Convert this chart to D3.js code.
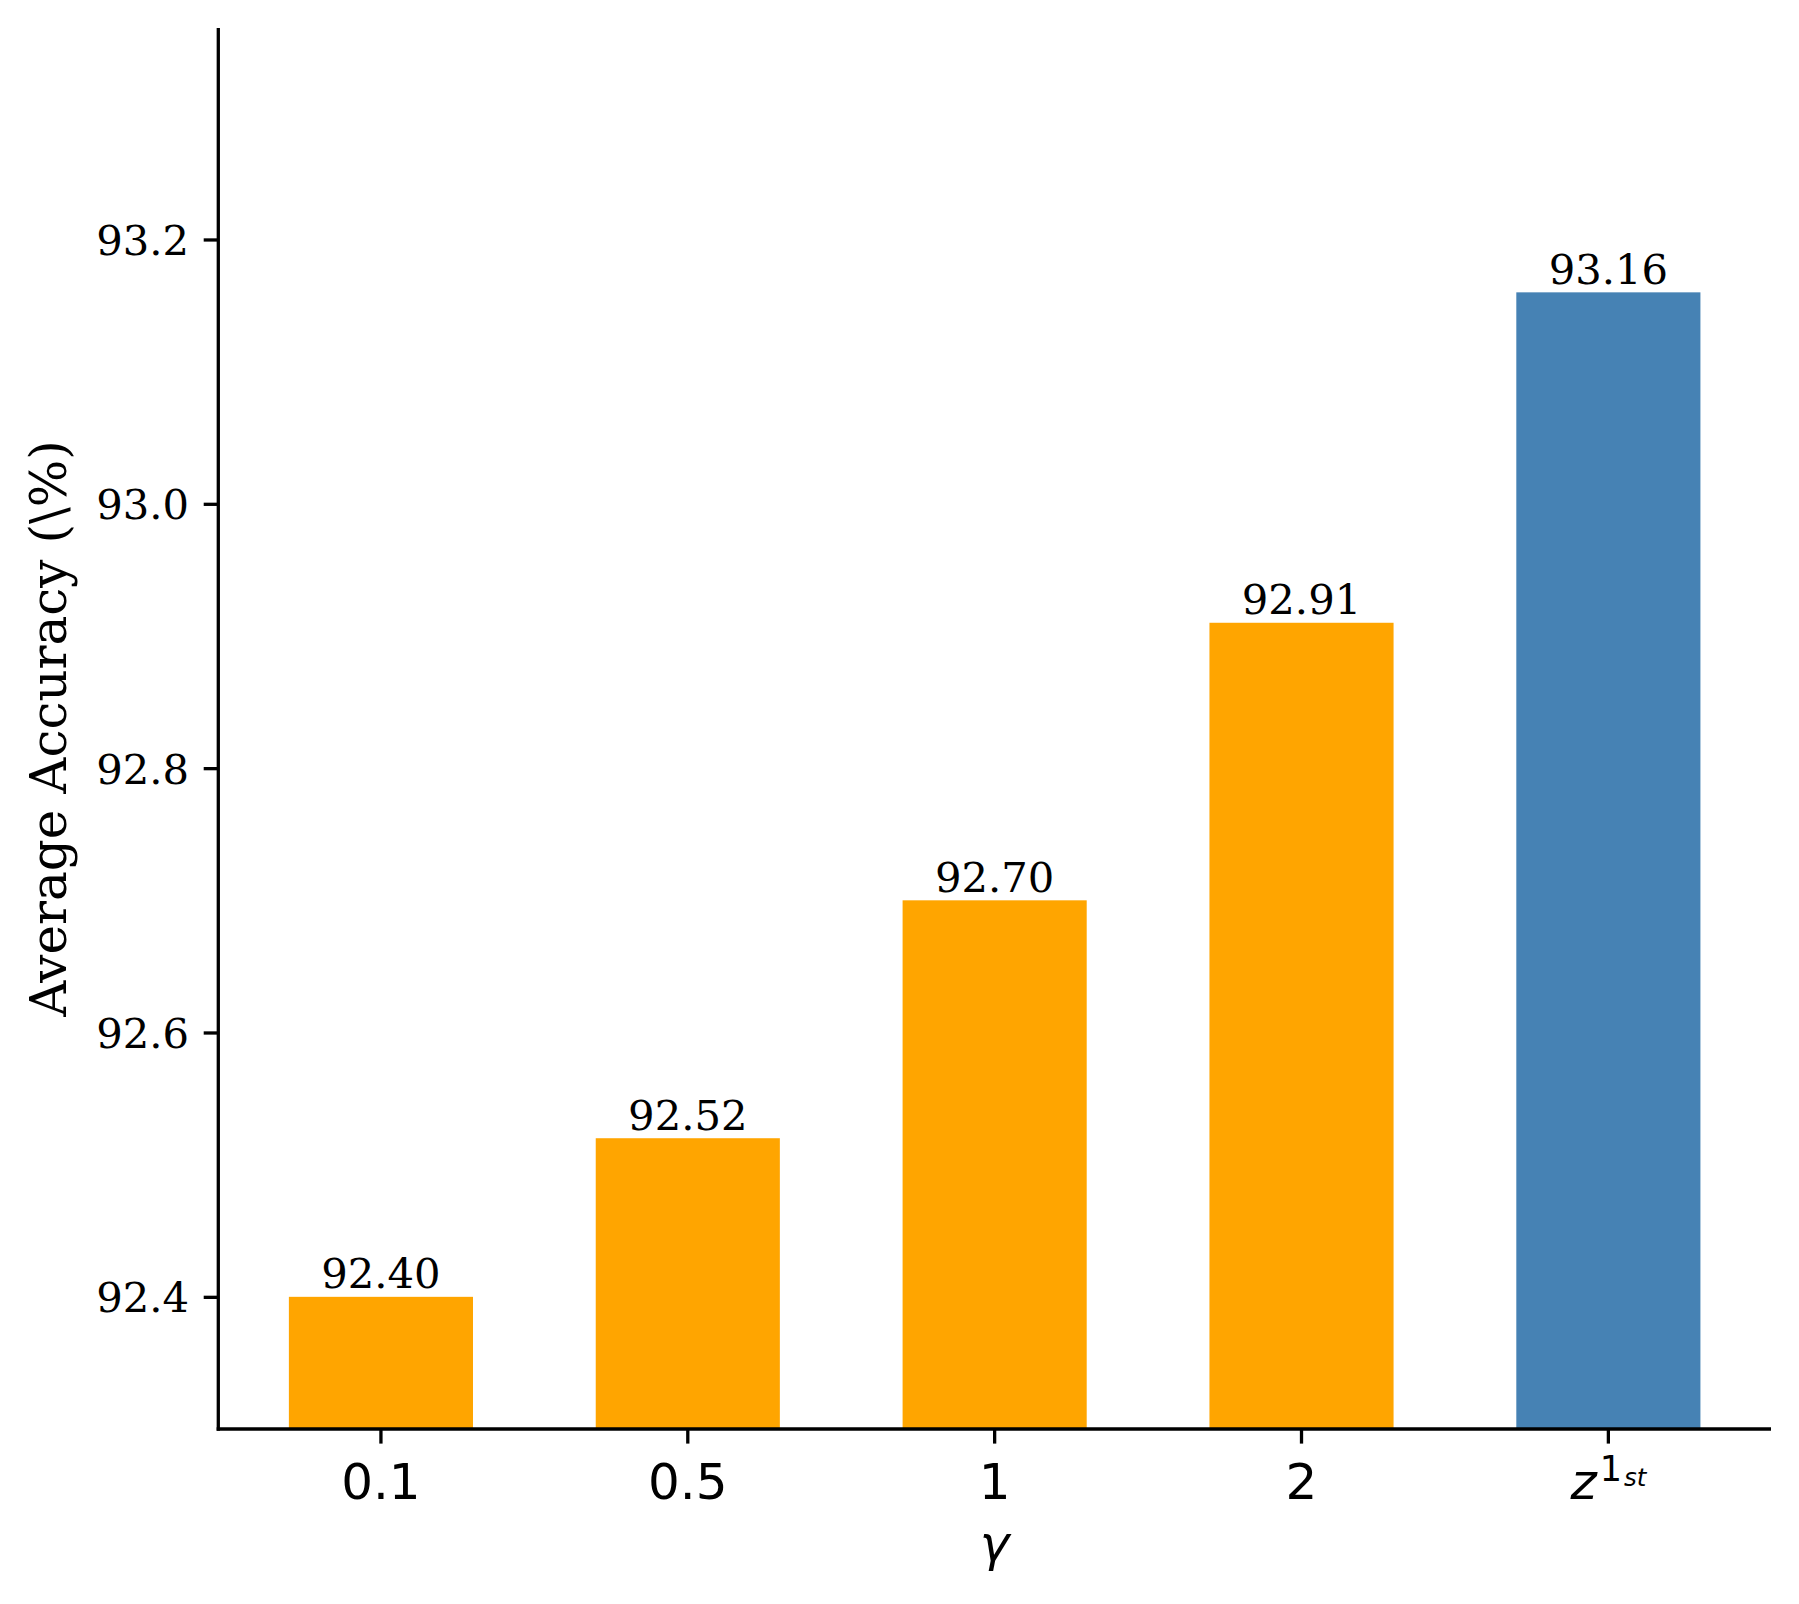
<!DOCTYPE html>
<html>
<head>
<meta charset="utf-8">
<script src="https://cdn.jsdelivr.net/npm/d3@7"></script>
<style>
  html, body { margin: 0; padding: 0; background: #fff; }
  svg { display: block; }
</style>
</head>
<body>
<svg id="chart" width="1799" height="1604"></svg>
<script>
const categories = ["0.1", "0.5", "1", "2", "z1st"];
const values = [92.40, 92.52, 92.70, 92.91, 93.16];
const valueLabels = ["92.40", "92.52", "92.70", "92.91", "93.16"];
const barColors = ["#FFA500", "#FFA500", "#FFA500", "#FFA500", "#4682B4"];
const yTicks = [92.4, 92.6, 92.8, 93.0, 93.2];
const yDomain = [92.3, 93.36];

const svg = d3.select("#chart");
const W = 1799, H = 1604;
const m = { left: 218.3, right: W - 1771, top: 28, bottom: H - 1429 };
const serif = "'DejaVu Serif', serif";
const sans = "'DejaVu Sans', sans-serif";
const lw = 3.3, tickLen = 14.6;

svg.append("rect").attr("width", W).attr("height", H).attr("fill", "#fff");

const x = d3.scaleBand().domain(categories)
  .range([m.left, W - m.right]).paddingInner(0.4).paddingOuter(0.23);
const y = d3.scaleLinear().domain(yDomain).range([H - m.bottom, m.top]);

const g = svg.append("g");

// bars
g.selectAll("rect.bar").data(categories).enter().append("rect")
  .attr("class", "bar")
  .attr("x", d => x(d))
  .attr("width", x.bandwidth())
  .attr("y", (d, i) => y(values[i]))
  .attr("height", (d, i) => y(yDomain[0]) - y(values[i]))
  .attr("fill", (d, i) => barColors[i]);

// value labels
g.selectAll("text.val").data(categories).enter().append("text")
  .attr("class", "val")
  .attr("x", d => x(d) + x.bandwidth() / 2)
  .attr("y", (d, i) => y(values[i]) - 8.5)
  .attr("text-anchor", "middle")
  .attr("font-family", serif)
  .attr("font-size", 41.7)
  .attr("fill", "#000")
  .text((d, i) => valueLabels[i]);

// y axis
const yAxis = d3.axisLeft(y).tickValues(yTicks).tickFormat(d3.format(".1f"))
  .tickSize(tickLen).tickPadding(14.6);
const ya = svg.append("g").attr("transform", `translate(${m.left},0)`).call(yAxis);
ya.select(".domain").attr("stroke", "#000").attr("stroke-width", lw)
  .attr("d", `M0,${y(yDomain[0]) + lw/2}V${m.top}`);
ya.selectAll(".tick line").attr("stroke", "#000").attr("stroke-width", lw);
ya.selectAll(".tick text").attr("font-family", serif).attr("font-size", 41.7)
  .attr("fill", "#000").attr("dy", "0.36em");

// x axis
const xAxis = d3.axisBottom(x).tickSize(tickLen).tickPadding(14.6).tickFormat(d => d);
const xa = svg.append("g").attr("transform", `translate(0,${H - m.bottom})`).call(xAxis);
xa.select(".domain").attr("stroke", "#000").attr("stroke-width", lw)
  .attr("d", `M${m.left - lw/2},0H${W - m.right}`);
xa.selectAll(".tick line").attr("stroke", "#000").attr("stroke-width", lw);
xa.selectAll(".tick text").attr("font-family", sans).attr("font-size", 50)
  .attr("fill", "#000").attr("y", null).attr("dy", null)
  .attr("transform", "translate(0,69.5)");

// custom z^{1_{st}} label
xa.selectAll(".tick text").filter(d => d === "z1st").each(function () {
  const t = d3.select(this).text(null);
  t.append("tspan").attr("font-style", "italic").text("z");
  t.append("tspan").attr("font-size", 35).attr("dy", -17.7).attr("dx", 3).text("1");
  t.append("tspan").attr("font-size", 24.5).attr("font-style", "italic").attr("dy", 5).attr("dx", 2).text("st");
});

// axis labels
svg.append("text")
  .attr("x", (m.left + W - m.right) / 2)
  .attr("y", 1561)
  .attr("text-anchor", "middle")
  .attr("font-family", sans)
  .attr("font-style", "italic")
  .attr("font-size", 50)
  .attr("fill", "#000")
  .text("γ");

svg.append("text")
  .attr("transform", `translate(66,${(m.top + H - m.bottom) / 2}) rotate(-90)`)
  .attr("text-anchor", "middle")
  .attr("font-family", serif)
  .attr("font-size", 50)
  .attr("fill", "#000")
  .text("Average Accuracy (\\%)");
</script>
</body>
</html>
